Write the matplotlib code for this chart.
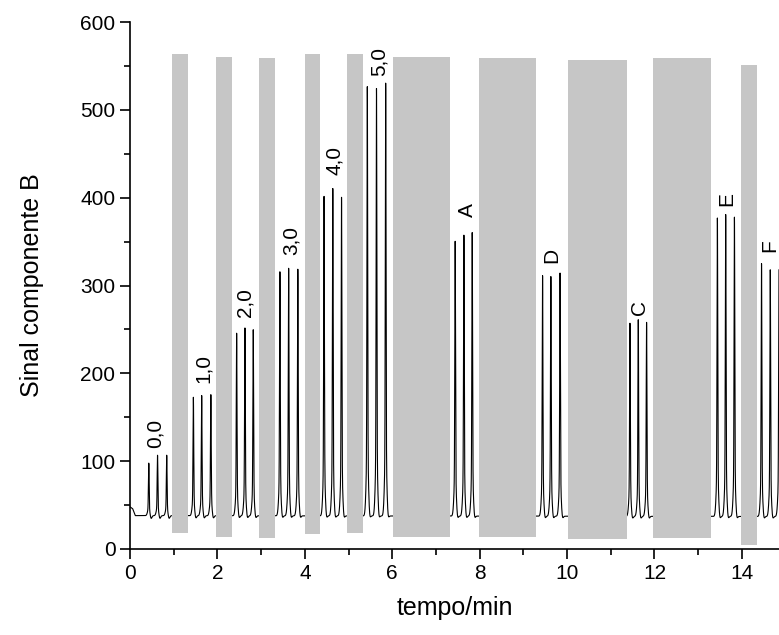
import numpy as np
import matplotlib
matplotlib.use("Agg")
import matplotlib.pyplot as plt
from matplotlib.ticker import MultipleLocator

plt.rcParams['font.family'] = ['Liberation Sans', 'DejaVu Sans']

# ---- data ----
# peak groups: label, label position (x), label bottom (y), peak times, peak heights
group_labels = ["0,0", "1,0", "2,0", "3,0", "4,0", "5,0", "A", "D", "C", "E", "F"]
label_x = [0.57, 1.68, 2.63, 3.70, 4.69, 5.70, 7.72, 9.65, 11.66, 13.65, 14.63]
label_y = [115, 189, 264, 335, 426, 539, 378, 326, 266, 390, 338]
peak_times = [
    [0.43, 0.63, 0.84],
    [1.45, 1.64, 1.85],
    [2.44, 2.63, 2.82],
    [3.43, 3.63, 3.84],
    [4.44, 4.64, 4.84],
    [5.43, 5.64, 5.85],
    [7.44, 7.64, 7.83],
    [9.44, 9.63, 9.84],
    [11.44, 11.63, 11.82],
    [13.44, 13.63, 13.83],
    [14.45, 14.65, 14.85],
]
peak_heights = [
    [97, 106, 106],
    [172, 174, 175],
    [245, 251, 249],
    [315, 319, 318],
    [401, 410, 400],
    [526, 524, 530],
    [350, 357, 360],
    [311, 310, 314],
    [257, 261, 258],
    [377, 381, 378],
    [325, 318, 318],
]
# baseline knots (time, signal)
baseline_t = [0.0, 0.06, 0.12, 14.85]
baseline_v = [48, 46, 38, 37]

# grey heart-cut bands: start, end, bottom, top
band_start = [0.97, 1.97, 2.96, 4.00, 4.96, 6.01, 7.99, 10.02, 11.97, 13.97]
band_end = [1.32, 2.33, 3.32, 4.35, 5.32, 7.32, 9.29, 11.37, 13.30, 14.34]
band_bottom = [18, 14, 13, 17, 18, 14, 14, 11, 13, 5]
band_top = [564, 560, 559, 563, 564, 560, 559, 557, 559, 551]

x_max = 14.85

# ---- build trace ----
t = np.linspace(0, x_max, 30000)
signal = np.interp(t, baseline_t, baseline_v)
for times, heights in zip(peak_times, peak_heights):
    for pt, ph in zip(times, heights):
        dt = t - pt
        h = ph - 37
        signal += h * (0.85 * np.exp(-0.5 * (dt / 0.008) ** 2)
                       + 0.15 * np.exp(-0.5 * (dt / 0.025) ** 2))
        signal -= 4 * np.exp(-0.5 * ((dt - 0.05) / 0.02) ** 2)

# ---- figure ----
fig = plt.figure(figsize=(7.79, 6.35), dpi=100)
ax = fig.add_axes([130 / 779, 86 / 635, 1 - 130 / 779, (549 - 22) / 635])

ax.plot(t, signal, color='black', lw=0.8, zorder=2)

for s, e, b, tp in zip(band_start, band_end, band_bottom, band_top):
    ax.bar(s, tp - b, width=e - s, bottom=b, align='edge',
           color='#c6c6c6', edgecolor='none', zorder=3)

for lab, lx, ly in zip(group_labels, label_x, label_y):
    ax.text(lx, ly, lab, rotation=90, ha='center', va='bottom',
            fontsize=15, zorder=4)

ax.set_xlim(0, x_max)
ax.set_ylim(0, 600)
ax.xaxis.set_major_locator(MultipleLocator(2))
ax.xaxis.set_minor_locator(MultipleLocator(1))
ax.yaxis.set_major_locator(MultipleLocator(100))
ax.yaxis.set_minor_locator(MultipleLocator(50))
ax.tick_params(which='major', direction='out', length=7, width=1.2,
               labelsize=15)
ax.tick_params(which='minor', direction='out', length=4, width=1.2)
for side in ['top', 'right']:
    ax.spines[side].set_visible(False)
for side in ['left', 'bottom']:
    ax.spines[side].set_linewidth(1.2)

ax.set_xlabel('tempo/min', fontsize=18, labelpad=10)
ax.set_ylabel('Sinal componente B', fontsize=18, labelpad=26)

fig.savefig('out.png', dpi=100)
